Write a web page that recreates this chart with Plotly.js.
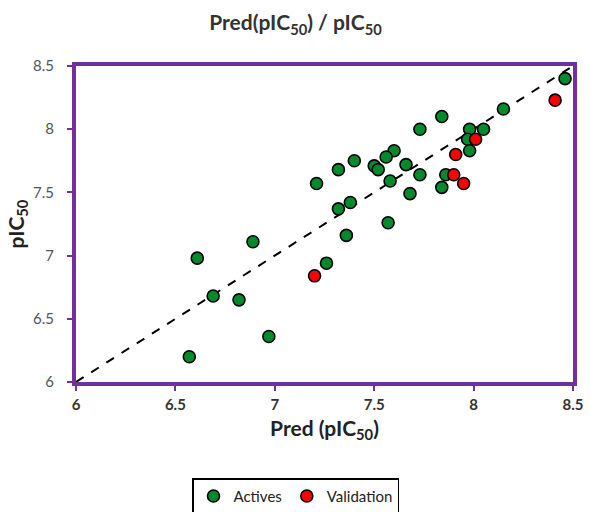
<!DOCTYPE html>
<html>
<head>
<meta charset="utf-8">
<script src="https://cdn.plot.ly/plotly-3.0.1.min.js"></script>
<style>html,body{margin:0;padding:0;background:#fff;}#chart{width:591px;height:512px;}</style>
</head>
<body>
<div id="chart"></div>
<script>
// Data
const activesPred = [8.46, 8.15, 7.84, 7.73, 7.98, 8.05, 7.97, 7.98, 7.60, 7.56, 7.40, 7.32, 7.50, 7.52, 7.66, 7.73, 7.86, 7.58, 7.21, 7.84, 7.68, 7.38, 7.32, 7.57, 7.36, 6.89, 6.61, 7.26, 6.69, 6.82, 6.97, 6.57];
const activesObs  = [8.40, 8.16, 8.10, 8.00, 8.00, 8.00, 7.92, 7.83, 7.83, 7.78, 7.75, 7.68, 7.71, 7.68, 7.72, 7.64, 7.64, 7.59, 7.57, 7.54, 7.49, 7.42, 7.37, 7.26, 7.16, 7.11, 6.98, 6.94, 6.68, 6.65, 6.36, 6.20];
const validPred = [8.41, 8.01, 7.91, 7.90, 7.95, 7.20];
const validObs  = [8.23, 7.92, 7.80, 7.64, 7.57, 6.84];
const lineX = [6, 8.5];
const lineY = [6, 8.5];
const tickVals = [6, 6.5, 7, 7.5, 8, 8.5];
const tickText = ['6', '6.5', '7', '7.5', '8', '8.5'];
const seriesNames = ['Actives', 'Validation'];

const FONT = 'Lato, "Open Sans", sans-serif';
const PURPLE = '#7030A0';

const traces = [
  {x: lineX, y: lineY, mode: 'lines', type: 'scatter', showlegend: false, hoverinfo: 'skip',
   line: {color: '#000', width: 2, dash: 'dash'}},
  {x: activesPred, y: activesObs, mode: 'markers', type: 'scatter', name: seriesNames[0],
   marker: {color: '#008A2E', size: 12, line: {color: '#000', width: 1.6}}},
  {x: validPred, y: validObs, mode: 'markers', type: 'scatter', name: seriesNames[1],
   marker: {color: '#FF0000', size: 12, line: {color: '#000', width: 1.6}}}
];

const axisCommon = {
  range: [6, 8.5], tickvals: tickVals, ticktext: tickText,
  showgrid: false, zeroline: false, showline: true, mirror: true,
  linecolor: PURPLE, linewidth: 4, ticks: 'outside', ticklen: 5, tickwidth: 2, tickcolor: PURPLE,
  automargin: false
};

const layout = {
  width: 591, height: 512,
  margin: {l: 76, r: 18, t: 66, b: 130},
  paper_bgcolor: '#fff', plot_bgcolor: '#fff',
  title: {text: '<b>Pred(pIC<sub>50</sub>) / pIC<sub>50</sub></b>', x: 0.5, xanchor: 'center', y: 0.955, yanchor: 'middle',
          font: {family: FONT, size: 21, color: '#333'}},
  xaxis: Object.assign({}, axisCommon, {
    tickfont: {family: FONT, size: 15, color: '#333', weight: 'bold'},
    ticklabelstandoff: 1,
    title: {text: '<b>Pred (pIC<sub>50</sub>)</b>', standoff: 10, font: {family: FONT, size: 21, color: '#222'}}
  }),
  yaxis: Object.assign({}, axisCommon, {
    tickfont: {family: FONT, size: 15, color: '#555'},
    ticklabelstandoff: 10,
    title: {text: '<b>pIC<sub>50</sub></b>', standoff: 4, font: {family: FONT, size: 21, color: '#222'}}
  }),
  legend: {orientation: 'h', x: 0.5, xref: 'container', xanchor: 'center', y: 0.066, yref: 'container', yanchor: 'top',
           bordercolor: '#000', borderwidth: 1.5, bgcolor: '#fff', itemwidth: 30,
           font: {family: FONT, size: 15, color: '#222'}},
  showlegend: true
};

Plotly.newPlot('chart', traces, layout, {displayModeBar: false, staticPlot: true});
</script>
</body>
</html>
